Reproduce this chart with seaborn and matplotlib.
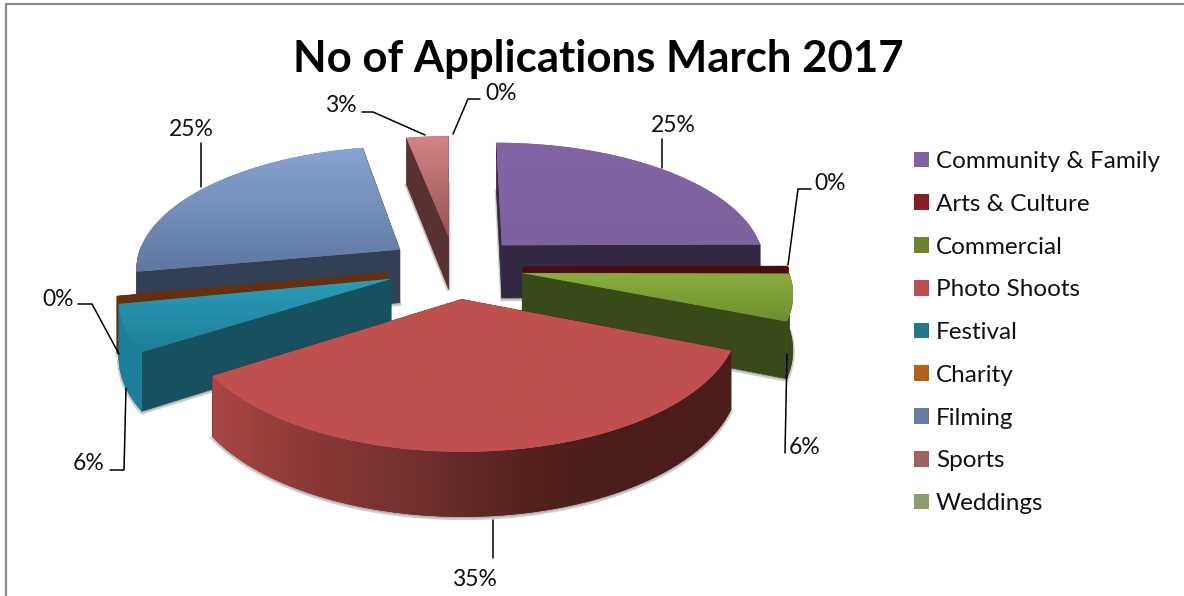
import matplotlib
matplotlib.use('Agg')
import matplotlib.pyplot as plt
from matplotlib.colors import LinearSegmentedColormap
from matplotlib.patches import Patch, Polygon
import numpy as np
import seaborn as sns

# chart data (percent of applications)
categories = ['Community & Family', 'Arts & Culture', 'Commercial', 'Photo Shoots',
              'Festival', 'Charity', 'Filming', 'Sports', 'Weddings']
values = [25, 0.2, 6, 35, 6, 0.2, 25, 3, 0.05]
title_text = 'No of Applications March 2017'

# styling per slice
legend_colors = ['#8064a2', '#892020', '#6a852a', '#c0504d', '#21798f',
                 '#b5611a', '#657ca6', '#a36262', '#8aa067']
top_colors = [('#8265a4', '#7d62a0'), ('#4a0c0c', '#4a0c0c'), ('#8aae3d', '#6f8f32'),
              ('#c0504d', '#c0504d'), ('#2b9cb9', '#1f7e98'), ('#6a2f08', '#6a2f08'),
              ('#86a4d2', '#5f779f'), ('#d48484', '#965454'), ('#8aa067', '#8aa067')]
face_colors = ['#352842', '#4a0c0c', '#374a17', '#5a2422', '#17505f', '#6a2f08',
               '#333f55', '#583232', '#4c5a38']
outer_colors = [['#352842'], ['#4a0c0c'], ['#374a17'],
                ['#a84644', '#8a3836', '#70302e', '#55221f', '#4a1d1b', '#4a1d1b'],
                ['#1d7f99'], ['#6a2f08'], ['#333f55'], ['#583232'], ['#4c5a38']]

# back to front, the Weddings sliver is too thin to show in the pie
draw_order = [7, 6, 0, 5, 1, 2, 4, 3]

# perspective of the 3d pie, in pixels
cx, cy = 455, 267
rx, ry = 265, 122
persp = 0.136
depth = 54
explode_r = 0.257


def project(u, v):
    w = 1 + persp * v
    return cx + rx * u / w, cy - ry * v / w, depth / w


def gradient_fill(ax, xy, colors, z, vertical=True):
    # solid polygon first so the clipped image has a clean edge
    ax.fill(xy[:, 0], xy[:, 1], fc=colors[-1] if vertical else colors[len(colors) // 2],
            ec='none', zorder=z)
    grad = np.linspace(0, 1, 128)
    grad = grad[:, None] if vertical else grad[None, :]
    cmap = LinearSegmentedColormap.from_list('g', list(colors) if len(colors) > 1 else list(colors) * 2)
    im = ax.imshow(grad, extent=(xy[:, 0].min(), xy[:, 0].max(), xy[:, 1].max(), xy[:, 1].min()),
                   cmap=cmap, aspect='auto', vmin=0, vmax=1, zorder=z + 1,
                   interpolation='bilinear')
    im.set_clip_path(Polygon(xy, transform=ax.transData))
    return z + 2


def draw_slice(ax, wedge, top, face, outer, z):
    t = np.radians(np.linspace(wedge.theta1, wedge.theta2, 90))
    cu, cv = wedge.center
    u = cu + wedge.r * np.cos(t)
    v = cv + wedge.r * np.sin(t)
    sx, sy, d = project(u, v)
    ax_, ay_, ad = project(cu, cv)

    # soft shadow round the bottom of the slice
    low_x = np.r_[ax_, sx]
    low_y = np.r_[ay_ + ad, sy + d]
    ax.fill(low_x, low_y + 1.5, fc='#777777', ec='#777777', lw=2.5, alpha=0.35, zorder=z)
    z += 1

    # flat cut faces, back one first
    ends = sorted((0, -1), key=lambda i: -v[i])
    for i in ends:
        q = np.array([(ax_, ay_), (sx[i], sy[i]), (sx[i], sy[i] + d[i]), (ax_, ay_ + ad)])
        ax.fill(q[:, 0], q[:, 1], fc=face, ec=face, lw=0.5, zorder=z)
        z += 1

    # rounded outer wall, only the part turned towards the viewer
    front = np.sin(t) <= 0.03
    if front.sum() > 1:
        wall = np.c_[np.r_[sx[front], sx[front][::-1]],
                     np.r_[sy[front], (sy + d)[front][::-1]]]
        z = gradient_fill(ax, wall, outer, z, vertical=False)

    # top face
    xy = np.c_[np.r_[ax_, sx], np.r_[ay_, sy]]
    return gradient_fill(ax, xy, top, z)


def main():
    sns.set_theme(style='white')
    plt.rcParams['font.family'] = ['Lato', 'DejaVu Sans']

    fig = plt.figure(figsize=(11.84, 5.96), dpi=100)
    ax = fig.add_axes([0, 0, 1, 1])

    wedges, _ = ax.pie(values, explode=[explode_r] * len(values), startangle=90,
                       counterclock=False, normalize=True)
    for w in wedges:
        w.set_visible(False)

    z = 2
    for i in draw_order:
        z = draw_slice(ax, wedges[i], top_colors[i], face_colors[i], outer_colors[i], z)

    # data labels and their leader lines
    labels = [f'{v:.0f}%' for v in values]
    label_pos = [(673, 125), (830, 184), (805, 448), (474, 579), (89, 464),
                 (58, 300), (191, 130), (341, 106), (501, 93)]
    leaders = [[(662, 139), (662, 168)],
               [(788, 265), (798, 189), (811, 189)],
               [(787, 354), (785, 453)],
               [(493, 520), (493, 558)],
               [(126, 388), (124, 470), (110, 470)],
               [(78, 304), (92, 304), (119, 354)],
               [(201, 143), (201, 187)],
               [(362, 112), (373, 112), (425, 135)],
               [(453, 134), (468, 99), (480, 99)]]
    for lab, pos, line in zip(labels, label_pos, leaders):
        line = np.array(line)
        ax.plot(line[:, 0], line[:, 1], color='black', lw=1.1, zorder=z)
        ax.text(pos[0], pos[1], lab, ha='center', va='center', fontsize=16.5,
                color='#111111', zorder=z + 1)

    ax.text(598, 59, title_text, ha='center', va='center', fontsize=31.5,
            fontweight='bold', color='black', zorder=z + 1)

    # legend
    handles = [Patch(fc=c, ec='none', label=n) for c, n in zip(legend_colors, categories)]
    ax.legend(handles=handles, loc='upper left', bbox_to_anchor=(914 / 1184, 1 - 151 / 596),
              frameon=False, fontsize=17.5, handlelength=0.62, handleheight=0.62,
              handletextpad=0.29, labelspacing=0.895, borderpad=0, borderaxespad=0,
              labelcolor='#111111')

    # chart frame, only top and left are in the crop
    ax.plot([6, 6, 1184], [596, 4, 4], color='#8c8c8c', lw=1.6, zorder=1)

    ax.set_aspect('auto')
    ax.set_xlim(0, 1184)
    ax.set_ylim(596, 0)
    ax.axis('off')
    fig.savefig('out.png', dpi=100, facecolor='white')
    plt.close(fig)


if __name__ == "__main__":
    main()
